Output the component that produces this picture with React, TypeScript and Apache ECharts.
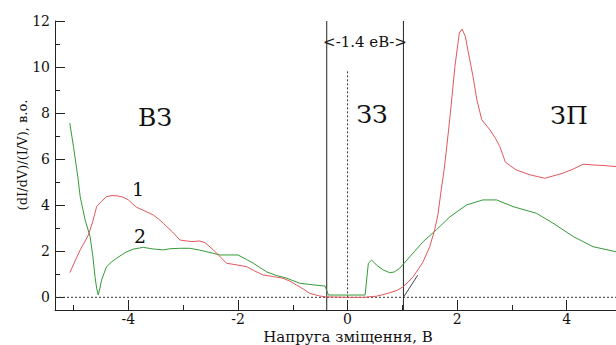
import React, { useEffect, useRef } from "react";
import * as echarts from "echarts";

const FONT = "DejaVu Serif";

// Curve 1 (red) and curve 2 (green): [bias, (dI/dV)/(I/V)]
const curve1: number[][] = [
  [-5.07, 1.07], [-4.95, 1.7], [-4.88, 2.06], [-4.8, 2.4], [-4.73, 2.71], [-4.65, 3.3],
  [-4.58, 3.94], [-4.5, 4.15], [-4.4, 4.37], [-4.3, 4.42], [-4.19, 4.4], [-4.1, 4.35],
  [-4.0, 4.23], [-3.92, 4.05], [-3.85, 3.91], [-3.7, 3.75], [-3.55, 3.58], [-3.45, 3.4],
  [-3.36, 3.21], [-3.2, 2.85], [-3.06, 2.49], [-2.95, 2.45], [-2.82, 2.42], [-2.7, 2.45],
  [-2.6, 2.37], [-2.45, 2.06], [-2.3, 1.7], [-2.21, 1.48], [-2.0, 1.4], [-1.84, 1.33],
  [-1.7, 1.15], [-1.54, 0.97], [-1.35, 0.9], [-1.18, 0.83], [-1.05, 0.7], [-0.93, 0.53],
  [-0.8, 0.35], [-0.69, 0.17], [-0.51, 0.06], [-0.4, 0.02], [0.0, 0.0], [0.3, 0.0],
  [0.53, 0.05], [0.65, 0.12], [0.77, 0.2], [0.9, 0.3], [1.01, 0.45], [1.1, 0.65],
  [1.2, 0.9], [1.3, 1.25], [1.38, 1.55], [1.5, 2.2], [1.59, 2.93], [1.65, 3.6],
  [1.71, 4.67], [1.76, 5.5], [1.8, 6.3], [1.87, 7.85], [1.96, 10.03], [2.04, 11.48],
  [2.09, 11.65], [2.15, 11.33], [2.23, 10.32], [2.29, 9.59], [2.36, 8.58], [2.45, 7.71],
  [2.6, 7.27], [2.7, 6.9], [2.78, 6.55], [2.88, 5.87], [3.08, 5.53], [3.33, 5.32],
  [3.6, 5.17], [3.93, 5.39], [4.1, 5.55], [4.3, 5.78], [4.48, 5.75], [4.7, 5.72], [4.9, 5.68],
];

const curve2: number[][] = [
  [-5.07, 7.57], [-5.0, 6.5], [-4.92, 5.17], [-4.88, 4.37], [-4.79, 3.36], [-4.7, 2.64],
  [-4.65, 1.8], [-4.61, 0.9], [-4.58, 0.4], [-4.55, 0.1], [-4.52, 0.4], [-4.49, 0.75],
  [-4.4, 1.33], [-4.3, 1.55], [-4.22, 1.69], [-4.1, 1.88], [-4.03, 1.98], [-3.9, 2.1],
  [-3.73, 2.17], [-3.55, 2.1], [-3.36, 2.06], [-3.24, 2.11], [-3.05, 2.13], [-2.88, 2.13],
  [-2.7, 2.05], [-2.57, 1.98], [-2.33, 1.84], [-2.0, 1.84], [-1.85, 1.65], [-1.72, 1.48],
  [-1.48, 1.11], [-1.3, 0.95], [-1.11, 0.83], [-0.87, 0.61], [-0.58, 0.53], [-0.41, 0.49],
  [-0.35, 0.1], [0.32, 0.1], [0.38, 1.48], [0.44, 1.62], [0.53, 1.4], [0.65, 1.19],
  [0.77, 1.07], [0.85, 1.1], [0.95, 1.26], [1.14, 1.77], [1.38, 2.42], [1.62, 2.93],
  [1.87, 3.5], [2.17, 4.01], [2.47, 4.23], [2.72, 4.23], [3.02, 3.94], [3.45, 3.65],
  [3.75, 3.22], [4.12, 2.64], [4.48, 2.2], [4.9, 1.98],
];

// Reference lines
const gapLeft: number[][] = [[-0.38, -0.55], [-0.38, 12]];
const gapRight: number[][] = [[1.02, -0.55], [1.02, 12]];
const zeroBias: number[][] = [[0, 0], [0, 9.9]];
const zeroLevel: number[][] = [[-5.34, 0], [4.9, 0]];
const tangent: number[][] = [[1.02, 0], [1.28, 0.96]];

// Axes
const xRange = [-5.34, 4.9];
const yRange = [-0.55, 12];
const xMajor = [-4, -2, 0, 2, 4];
const xMinor = [-5, -3, -1, 1, 3];
const yMajor = [0, 2, 4, 6, 8, 10, 12];
const yMinor = [1, 3, 5, 7, 9, 11];

// Texts
const xName = "Напруга зміщення, В";
const yName = "(dI/dV)/(I/V), в.о.";
const gapText = "<-1.4 еВ->";
const regionLabels = ["ВЗ", "ЗЗ", "ЗП"];
const curveLabels = ["1", "2"];

const AXIS = "#222";

export default function App() {
  const ref = useRef<HTMLDivElement>(null);
  useEffect(() => {
    if (!ref.current) return;
    const chart = echarts.init(ref.current, null, { renderer: "svg" });
    const refLine = (data: number[][], type: any, color = "#222") => ({
      type: "line",
      data,
      symbol: "none",
      silent: true,
      lineStyle: { color, width: 1, type },
      z: 1,
    });
    const txt = (text: string, x: number, y: number, size: number, rotation = 0) => ({
      type: "text",
      x,
      y,
      rotation,
      silent: true,
      style: {
        text,
        fontFamily: FONT,
        fontSize: size,
        fill: "#111",
        textAlign: "center",
        textVerticalAlign: "middle",
      },
    });
    const option: any = {
      animation: false,
      textStyle: { fontFamily: FONT },
      grid: { left: 55, right: 0, top: 21, bottom: 35, outerBoundsMode: "none" },
      xAxis: [
        {
          type: "value",
          min: xRange[0],
          max: xRange[1],
          position: "bottom",
          axisLine: { onZero: false, lineStyle: { color: AXIS, width: 1 } },
          axisTick: { inside: true, length: 10, customValues: xMajor, lineStyle: { color: AXIS } },
          axisLabel: {
            customValues: xMajor,
            fontFamily: FONT,
            fontSize: 14,
            lineHeight: 12,
            color: "#111",
            margin: 3,
          },
          splitLine: { show: false },
        },
        {
          type: "value",
          min: xRange[0],
          max: xRange[1],
          position: "bottom",
          axisLine: { show: false, onZero: false },
          axisTick: { inside: true, length: 5, customValues: xMinor, lineStyle: { color: AXIS } },
          axisLabel: { show: false },
          splitLine: { show: false },
        },
      ],
      yAxis: [
        {
          type: "value",
          min: yRange[0],
          max: yRange[1],
          position: "left",
          axisLine: { show: true, onZero: false, lineStyle: { color: AXIS, width: 1 } },
          axisTick: { show: true, inside: true, length: 10, customValues: yMajor, lineStyle: { color: AXIS } },
          axisLabel: { customValues: yMajor, fontFamily: FONT, fontSize: 14, color: "#111", margin: 5 },
          splitLine: { show: false },
        },
        {
          type: "value",
          min: yRange[0],
          max: yRange[1],
          position: "left",
          axisLine: { show: false, onZero: false },
          axisTick: { show: true, inside: true, length: 5, customValues: yMinor, lineStyle: { color: AXIS } },
          axisLabel: { show: false },
          splitLine: { show: false },
        },
      ],
      series: [
        refLine(zeroLevel, [2, 2], "#333"),
        refLine(zeroBias, [2, 2], "#333"),
        refLine(gapLeft, "solid"),
        refLine(gapRight, "solid"),
        refLine(tangent, "solid", "#444"),
        {
          type: "line",
          name: "2",
          data: curve2,
          symbol: "none",
          silent: true,
          lineStyle: { color: "#349a38", width: 1 },
          z: 3,
        },
        {
          type: "line",
          name: "1",
          data: curve1,
          symbol: "none",
          silent: true,
          lineStyle: { color: "#e2575b", width: 1 },
          z: 4,
        },
      ],
      graphic: [
        txt(xName, 348, 337, 15),
        txt(yName, 22, 155, 13, Math.PI / 2),
        txt(gapText, 365, 42, 15),
        txt(regionLabels[0], 155, 117, 25),
        txt(regionLabels[1], 372, 114, 25),
        txt(regionLabels[2], 569, 115, 25),
        txt(curveLabels[0], 138, 189, 19),
        txt(curveLabels[1], 140, 236, 19),
      ],
    };
    chart.setOption(option);
    return () => chart.dispose();
  }, []);
  return (
    <div
      ref={ref}
      style={{ position: "absolute", left: 0, top: 0, width: 616, height: 345, background: "#fff" }}
    />
  );
}
